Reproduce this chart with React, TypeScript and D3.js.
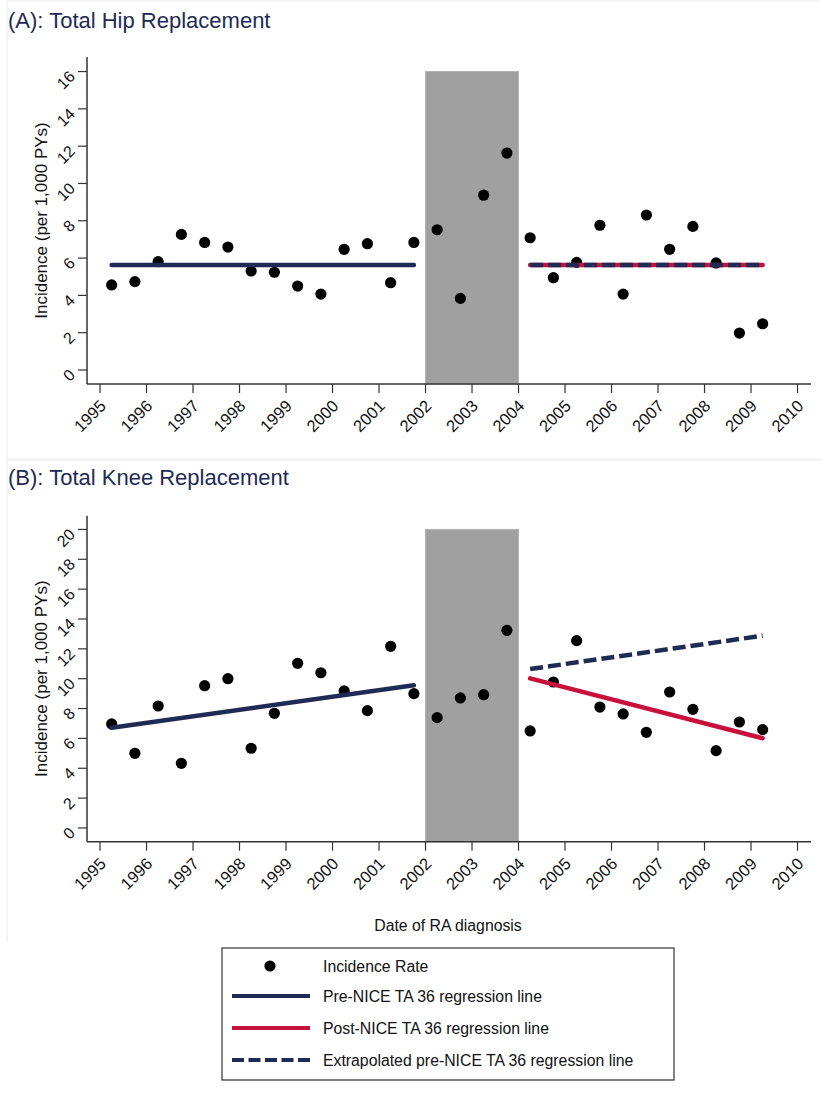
import React from "react";
import * as d3 from "d3";

// half-year periods (mid-points) of RA diagnosis
const periods = [
  1995.25, 1995.75, 1996.25, 1996.75, 1997.25, 1997.75, 1998.25, 1998.75,
  1999.25, 1999.75, 2000.25, 2000.75, 2001.25, 2001.75, 2002.25, 2002.75,
  2003.25, 2003.75, 2004.25, 2004.75, 2005.25, 2005.75, 2006.25, 2006.75,
  2007.25, 2007.75, 2008.25, 2008.75, 2009.25,
];

const hipRates = [
  4.56, 4.74, 5.81, 7.27, 6.84, 6.59, 5.31, 5.24, 4.5, 4.07, 6.47, 6.77, 4.68,
  6.84, 7.52, 3.84, 9.37, 11.63, 7.09, 4.95, 5.77, 7.76, 4.07, 8.31, 6.47, 7.7,
  5.74, 1.98, 2.48,
];

const kneeRates = [
  6.97, 5.0, 8.17, 4.33, 9.53, 10.0, 5.34, 7.68, 11.03, 10.4, 9.18, 7.86, 12.17,
  9.0, 7.39, 8.71, 8.93, 13.24, 6.5, 9.78, 12.55, 8.1, 7.64, 6.41, 9.11, 7.95,
  5.18, 7.1, 6.59,
];

// regression lines: [start, end] as [year, value]
const hipPre = [[1995.25, 5.63], [2001.75, 5.63]];
const hipPost = [[2004.25, 5.63], [2009.25, 5.63]];
const hipExtrap = [[2004.25, 5.63], [2009.25, 5.63]];
const kneePre = [[1995.25, 6.72], [2001.75, 9.56]];
const kneePost = [[2004.25, 10.02], [2009.25, 6.01]];
const kneeExtrap = [[2004.25, 10.65], [2009.25, 12.88]];

const yearTicks = [1995, 1996, 1997, 1998, 1999, 2000, 2001, 2002, 2003, 2004, 2005, 2006, 2007, 2008, 2009, 2010];
const hipTicks = [0, 2, 4, 6, 8, 10, 12, 14, 16];
const kneeTicks = [0, 2, 4, 6, 8, 10, 12, 14, 16, 18, 20];
const washout = [2002, 2004];

const legendLabels = [
  "Incidence Rate",
  "Pre-NICE TA 36 regression line",
  "Post-NICE TA 36 regression line",
  "Extrapolated pre-NICE TA 36 regression line",
];

const NAVY = "#1f2b55";
const RED = "#c8103c";
const AXIS = "#333";
const FONT = "'Liberation Sans', Arial, Helvetica, sans-serif";

const xScale = d3.scaleLinear().domain([1994.72, 2010.29]).range([87, 811]);

function Panel({ title, titleY, rates, ticks, yDomain, yRange, pre, post, extrap, extrapOverlay }) {
  const yScale = d3.scaleLinear().domain(yDomain).range(yRange);
  const line = d3.line().x((d) => xScale(d[0])).y((d) => yScale(d[1]));
  const axisY = yRange[0];
  const axisTop = yRange[1];
  const yMax = ticks[ticks.length - 1];

  return (
    <g>
      <text x={8} y={titleY} fontSize={22} fill={NAVY} fontFamily={FONT}>
        {title}
      </text>
      <rect
        x={xScale(washout[0])}
        y={yScale(yMax)}
        width={xScale(washout[1]) - xScale(washout[0])}
        height={axisY - yScale(yMax)}
        fill="#a0a0a0"
        stroke="#b4b4b4"
        strokeWidth={1}
      />
      {/* axes */}
      <line x1={87} x2={87} y1={axisTop} y2={axisY} stroke={AXIS} strokeWidth={1.5} />
      <line x1={87} x2={811} y1={axisY} y2={axisY} stroke={AXIS} strokeWidth={1.5} />
      {ticks.map((t) => (
        <g key={t}>
          <line x1={78} x2={87} y1={yScale(t)} y2={yScale(t)} stroke={AXIS} strokeWidth={1.2} />
          <text
            transform={`translate(${76},${yScale(t) + 6}) rotate(-45)`}
            textAnchor="end"
            fontSize={16}
            fontFamily={FONT}
            fill="#111"
          >
            {t}
          </text>
        </g>
      ))}
      {yearTicks.map((yr) => (
        <g key={yr}>
          <line x1={xScale(yr)} x2={xScale(yr)} y1={axisY} y2={axisY + 9} stroke={AXIS} strokeWidth={1.2} />
          <text
            transform={`translate(${xScale(yr) + 7},${axisY + 23}) rotate(-45)`}
            textAnchor="end"
            fontSize={16.5}
            fontFamily={FONT}
            fill="#111"
          >
            {yr}
          </text>
        </g>
      ))}
      <text
        transform={`translate(47,${(axisY + axisTop) / 2}) rotate(-90)`}
        textAnchor="middle"
        fontSize={17}
        fontFamily={FONT}
        fill="#111"
      >
        Incidence (per 1,000 PYs)
      </text>
      {rates.map((v, i) => (
        <circle key={i} cx={xScale(periods[i])} cy={yScale(v)} r={5.6} fill="#000" />
      ))}
      <path d={line(pre)} stroke={NAVY} strokeWidth={4.5} strokeLinecap="round" fill="none" />
      {extrapOverlay ? (
        <>
          <path d={line(post)} stroke={RED} strokeWidth={4.5} strokeLinecap="round" fill="none" />
          <path d={line(extrap)} stroke={NAVY} strokeWidth={4.5} strokeDasharray="13 5" fill="none" />
        </>
      ) : (
        <>
          <path d={line(extrap)} stroke={NAVY} strokeWidth={4.5} strokeDasharray="13 5" fill="none" />
          <path d={line(post)} stroke={RED} strokeWidth={4.5} strokeLinecap="round" fill="none" />
        </>
      )}
    </g>
  );
}

function Legend() {
  const rowY = [966, 996, 1028, 1060];
  return (
    <g fontFamily={FONT}>
      <rect x={222} y={948} width={452} height={132} fill="#fff" stroke={AXIS} strokeWidth={1.2} />
      <circle cx={270} cy={rowY[0]} r={5.6} fill="#000" />
      <line x1={232} x2={310} y1={rowY[1]} y2={rowY[1]} stroke={NAVY} strokeWidth={4} />
      <line x1={232} x2={310} y1={rowY[2]} y2={rowY[2]} stroke={RED} strokeWidth={4} />
      <line x1={232} x2={310} y1={rowY[3]} y2={rowY[3]} stroke={NAVY} strokeWidth={4} strokeDasharray="12 4.5" />
      {legendLabels.map((l, i) => (
        <text key={l} x={323} y={rowY[i] + 6} fontSize={15.8} fill="#111">
          {l}
        </text>
      ))}
    </g>
  );
}

export default function App() {
  return (
    <svg
      width={821}
      height={1106}
      style={{ position: "absolute", left: 0, top: 0, background: "#fff" }}
    >
      <rect x={7} y={1} width={820} height={458} fill="none" stroke="#ececec" />
      <line x1={7} x2={821} y1={460} y2={460} stroke="#ececec" />
      <line x1={7} x2={7} y1={460} y2={942} stroke="#ececec" />
      <Panel
        title="(A): Total Hip Replacement"
        titleY={28}
        rates={hipRates}
        ticks={hipTicks}
        yDomain={[-0.75, 16.78]}
        yRange={[384, 57]}
        pre={hipPre}
        post={hipPost}
        extrap={hipExtrap}
        extrapOverlay={true}
      />
      <Panel
        title="(B): Total Knee Replacement"
        titleY={485}
        rates={kneeRates}
        ticks={kneeTicks}
        yDomain={[-0.92, 20.92]}
        yRange={[841.7, 515.7]}
        pre={kneePre}
        post={kneePost}
        extrap={kneeExtrap}
        extrapOverlay={false}
      />
      <text x={448} y={931} textAnchor="middle" fontSize={15.8} fontFamily={FONT} fill="#111">
        Date of RA diagnosis
      </text>
      <Legend />
    </svg>
  );
}
